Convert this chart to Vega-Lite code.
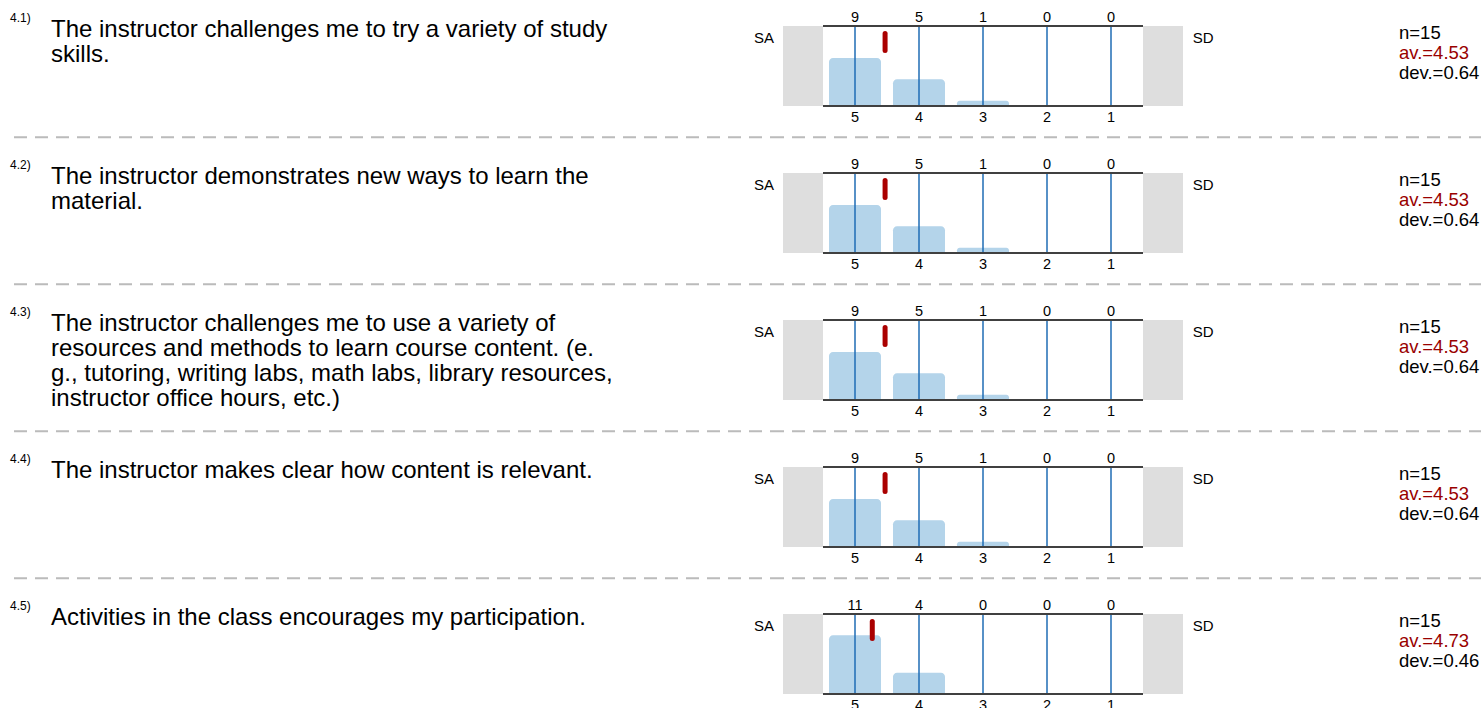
{
  "$schema": "https://vega.github.io/schema/vega-lite/v6.json",
  "padding": {"left": 9, "top": 0, "right": 0, "bottom": 0},
  "bounds": "flush",
  "spacing": 0,
  "columns": 3,
  "align": "each",
  "config": {"view": {"stroke": null}, "font": "Liberation Sans", "text": {"font": "Liberation Sans", "color": "#000000"}},
  "datasets": {
    "questions": [
      {"q": "4.1", "num": "4.1)", "lines": ["The instructor challenges me to try a variety of study", "skills."], "n": 15, "av": 4.53, "dev": 0.64, "nLabel": "n=15", "avLabel": "av.=4.53", "devLabel": "dev.=0.64"},
      {"q": "4.2", "num": "4.2)", "lines": ["The instructor demonstrates new ways to learn the", "material."], "n": 15, "av": 4.53, "dev": 0.64, "nLabel": "n=15", "avLabel": "av.=4.53", "devLabel": "dev.=0.64"},
      {"q": "4.3", "num": "4.3)", "lines": ["The instructor challenges me to use a variety of", "resources and methods to learn course content. (e.", "g., tutoring, writing labs, math labs, library resources,", "instructor office hours, etc.)"], "n": 15, "av": 4.53, "dev": 0.64, "nLabel": "n=15", "avLabel": "av.=4.53", "devLabel": "dev.=0.64"},
      {"q": "4.4", "num": "4.4)", "lines": ["The instructor makes clear how content is relevant."], "n": 15, "av": 4.53, "dev": 0.64, "nLabel": "n=15", "avLabel": "av.=4.53", "devLabel": "dev.=0.64"},
      {"q": "4.5", "num": "4.5)", "lines": ["Activities in the class encourages my participation."], "n": 15, "av": 4.73, "dev": 0.46, "nLabel": "n=15", "avLabel": "av.=4.73", "devLabel": "dev.=0.46"}
    ],
    "counts": [
      {"q": "4.1", "rating": 5, "count": 9}, {"q": "4.1", "rating": 4, "count": 5}, {"q": "4.1", "rating": 3, "count": 1}, {"q": "4.1", "rating": 2, "count": 0}, {"q": "4.1", "rating": 1, "count": 0},
      {"q": "4.2", "rating": 5, "count": 9}, {"q": "4.2", "rating": 4, "count": 5}, {"q": "4.2", "rating": 3, "count": 1}, {"q": "4.2", "rating": 2, "count": 0}, {"q": "4.2", "rating": 1, "count": 0},
      {"q": "4.3", "rating": 5, "count": 9}, {"q": "4.3", "rating": 4, "count": 5}, {"q": "4.3", "rating": 3, "count": 1}, {"q": "4.3", "rating": 2, "count": 0}, {"q": "4.3", "rating": 1, "count": 0},
      {"q": "4.4", "rating": 5, "count": 9}, {"q": "4.4", "rating": 4, "count": 5}, {"q": "4.4", "rating": 3, "count": 1}, {"q": "4.4", "rating": 2, "count": 0}, {"q": "4.4", "rating": 1, "count": 0},
      {"q": "4.5", "rating": 5, "count": 11}, {"q": "4.5", "rating": 4, "count": 4}, {"q": "4.5", "rating": 3, "count": 0}, {"q": "4.5", "rating": 2, "count": 0}, {"q": "4.5", "rating": 1, "count": 0}
    ]
  },
  "concat": [
    {"width": 773, "height": 146.67, "data": {"name": "questions"}, "transform": [{"filter": "datum.q == '4.1'"}],
     "layer": [
      {"mark": {"type": "text", "align": "left", "baseline": "alphabetic", "fontSize": 12, "dy": 21.7}, "encoding": {"x": {"datum": 0, "scale": {"domain": [0, 1]}, "axis": null}, "y": {"datum": 1, "scale": {"domain": [0, 1]}, "axis": null}, "text": {"field": "num"}}},
      {"mark": {"type": "text", "align": "left", "baseline": "alphabetic", "fontSize": 24, "dx": 41, "dy": 36.7, "lineHeight": 25}, "encoding": {"x": {"datum": 0, "scale": {"domain": [0, 1]}, "axis": null}, "y": {"datum": 1, "scale": {"domain": [0, 1]}, "axis": null}, "text": {"field": "lines"}}},
      {"mark": {"type": "rule", "color": "#bbbbbb", "strokeWidth": 2, "strokeDash": [13, 8]}, "encoding": {"y": {"datum": 0.0639, "scale": {"domain": [0, 1]}, "axis": null}}}
     ]},
    {"width": 400, "height": 146.67, "data": {"name": "questions"}, "transform": [{"filter": "datum.q == '4.1'"}],
     "layer": [
      {"mark": {"type": "rect", "color": "#dedede"}, "encoding": {"x": {"datum": 6.125, "scale": {"domain": [6.125, -0.125], "nice": false, "zero": false, "padding": 0}, "axis": null}, "x2": {"datum": 5.5}, "y": {"datum": 0, "scale": {"domain": [-7.625, 19.875], "nice": false, "zero": false}, "axis": null}, "y2": {"datum": 15}}},
      {"mark": {"type": "rect", "color": "#dedede"}, "encoding": {"x": {"datum": 0.5, "scale": {"domain": [6.125, -0.125], "nice": false, "zero": false, "padding": 0}, "axis": null}, "x2": {"datum": -0.125}, "y": {"datum": 0, "scale": {"domain": [-7.625, 19.875], "nice": false, "zero": false}, "axis": null}, "y2": {"datum": 15}}},
      {"data": {"name": "counts"}, "transform": [{"filter": "datum.q == '4.1'"}], "mark": {"type": "bar", "width": 52, "color": "#b4d4ea", "cornerRadiusTopLeft": 4, "cornerRadiusTopRight": 4}, "encoding": {"x": {"field": "rating", "type": "quantitative", "scale": {"domain": [6.125, -0.125], "nice": false, "zero": false, "padding": 0}, "axis": null}, "y": {"field": "count", "type": "quantitative", "scale": {"domain": [-7.625, 19.875], "nice": false, "zero": false}, "axis": null}, "y2": {"datum": 0}}},
      {"data": {"name": "counts"}, "transform": [{"filter": "datum.q == '4.1'"}], "mark": {"type": "rule", "color": "#1f6db4", "strokeWidth": 1.5}, "encoding": {"x": {"field": "rating", "type": "quantitative", "scale": {"domain": [6.125, -0.125], "nice": false, "zero": false, "padding": 0}, "axis": null}, "y": {"datum": 0, "scale": {"domain": [-7.625, 19.875], "nice": false, "zero": false}, "axis": null}, "y2": {"datum": 15}}},
      {"mark": {"type": "rule", "color": "#404040", "strokeWidth": 2}, "encoding": {"x": {"datum": 5.5, "scale": {"domain": [6.125, -0.125], "nice": false, "zero": false, "padding": 0}, "axis": null}, "x2": {"datum": 0.5}, "y": {"datum": 15, "scale": {"domain": [-7.625, 19.875], "nice": false, "zero": false}, "axis": null}}},
      {"mark": {"type": "rule", "color": "#404040", "strokeWidth": 2}, "encoding": {"x": {"datum": 5.5, "scale": {"domain": [6.125, -0.125], "nice": false, "zero": false, "padding": 0}, "axis": null}, "x2": {"datum": 0.5}, "y": {"datum": 0, "scale": {"domain": [-7.625, 19.875], "nice": false, "zero": false}, "axis": null}}},
      {"mark": {"type": "rule", "color": "#aa0000", "strokeWidth": 5, "strokeCap": "round"}, "encoding": {"x": {"field": "av", "type": "quantitative", "scale": {"domain": [6.125, -0.125], "nice": false, "zero": false, "padding": 0}, "axis": null}, "y": {"datum": 13.59, "scale": {"domain": [-7.625, 19.875], "nice": false, "zero": false}, "axis": null}, "y2": {"datum": 10.41}}},
      {"data": {"name": "counts"}, "transform": [{"filter": "datum.q == '4.1'"}], "mark": {"type": "text", "fontSize": 14.5, "baseline": "alphabetic", "dy": -4.3}, "encoding": {"x": {"field": "rating", "type": "quantitative", "scale": {"domain": [6.125, -0.125], "nice": false, "zero": false, "padding": 0}, "axis": null}, "y": {"datum": 15, "scale": {"domain": [-7.625, 19.875], "nice": false, "zero": false}, "axis": null}, "text": {"field": "count"}}},
      {"data": {"name": "counts"}, "transform": [{"filter": "datum.q == '4.1'"}], "mark": {"type": "text", "fontSize": 14.5, "baseline": "alphabetic", "dy": 15.7}, "encoding": {"x": {"field": "rating", "type": "quantitative", "scale": {"domain": [6.125, -0.125], "nice": false, "zero": false, "padding": 0}, "axis": null}, "y": {"datum": 0, "scale": {"domain": [-7.625, 19.875], "nice": false, "zero": false}, "axis": null}, "text": {"field": "rating"}}},
      {"mark": {"type": "text", "text": "SA", "fontSize": 15, "align": "right", "baseline": "alphabetic", "dx": -9, "dy": 16.7}, "encoding": {"x": {"datum": 6.125, "scale": {"domain": [6.125, -0.125], "nice": false, "zero": false, "padding": 0}, "axis": null}, "y": {"datum": 15, "scale": {"domain": [-7.625, 19.875], "nice": false, "zero": false}, "axis": null}}},
      {"mark": {"type": "text", "text": "SD", "fontSize": 15, "align": "left", "baseline": "alphabetic", "dx": 9.7, "dy": 16.7}, "encoding": {"x": {"datum": -0.125, "scale": {"domain": [6.125, -0.125], "nice": false, "zero": false, "padding": 0}, "axis": null}, "y": {"datum": 15, "scale": {"domain": [-7.625, 19.875], "nice": false, "zero": false}, "axis": null}}},
      {"mark": {"type": "rule", "color": "#bbbbbb", "strokeWidth": 2, "strokeDash": [13, 8]}, "encoding": {"y": {"datum": -5.869, "scale": {"domain": [-7.625, 19.875], "nice": false, "zero": false}, "axis": null}}}
     ]},
    {"width": 299, "height": 146.67, "data": {"name": "questions"}, "transform": [{"filter": "datum.q == '4.1'"}],
     "layer": [
      {"mark": {"type": "text", "align": "left", "baseline": "alphabetic", "fontSize": 18.5, "dx": 216, "dy": 38.5}, "encoding": {"x": {"datum": 0, "scale": {"domain": [0, 1]}, "axis": null}, "y": {"datum": 1, "scale": {"domain": [0, 1]}, "axis": null}, "text": {"field": "nLabel"}}},
      {"mark": {"type": "text", "align": "left", "baseline": "alphabetic", "fontSize": 18.5, "dx": 216, "dy": 59, "color": "#990000"}, "encoding": {"x": {"datum": 0, "scale": {"domain": [0, 1]}, "axis": null}, "y": {"datum": 1, "scale": {"domain": [0, 1]}, "axis": null}, "text": {"field": "avLabel"}}},
      {"mark": {"type": "text", "align": "left", "baseline": "alphabetic", "fontSize": 18.5, "dx": 216, "dy": 79, "limit": 0}, "encoding": {"x": {"datum": 0, "scale": {"domain": [0, 1]}, "axis": null}, "y": {"datum": 1, "scale": {"domain": [0, 1]}, "axis": null}, "text": {"field": "devLabel"}}},
      {"mark": {"type": "rule", "color": "#bbbbbb", "strokeWidth": 2, "strokeDash": [13, 8]}, "encoding": {"y": {"datum": 0.0639, "scale": {"domain": [0, 1]}, "axis": null}}}
     ]},

    {"width": 773, "height": 146.67, "data": {"name": "questions"}, "transform": [{"filter": "datum.q == '4.2'"}],
     "layer": [
      {"mark": {"type": "text", "align": "left", "baseline": "alphabetic", "fontSize": 12, "dy": 21.7}, "encoding": {"x": {"datum": 0, "scale": {"domain": [0, 1]}, "axis": null}, "y": {"datum": 1, "scale": {"domain": [0, 1]}, "axis": null}, "text": {"field": "num"}}},
      {"mark": {"type": "text", "align": "left", "baseline": "alphabetic", "fontSize": 24, "dx": 41, "dy": 36.7, "lineHeight": 25}, "encoding": {"x": {"datum": 0, "scale": {"domain": [0, 1]}, "axis": null}, "y": {"datum": 1, "scale": {"domain": [0, 1]}, "axis": null}, "text": {"field": "lines"}}},
      {"mark": {"type": "rule", "color": "#bbbbbb", "strokeWidth": 2, "strokeDash": [13, 8]}, "encoding": {"y": {"datum": 0.0639, "scale": {"domain": [0, 1]}, "axis": null}}}
     ]},
    {"width": 400, "height": 146.67, "data": {"name": "questions"}, "transform": [{"filter": "datum.q == '4.2'"}],
     "layer": [
      {"mark": {"type": "rect", "color": "#dedede"}, "encoding": {"x": {"datum": 6.125, "scale": {"domain": [6.125, -0.125], "nice": false, "zero": false, "padding": 0}, "axis": null}, "x2": {"datum": 5.5}, "y": {"datum": 0, "scale": {"domain": [-7.625, 19.875], "nice": false, "zero": false}, "axis": null}, "y2": {"datum": 15}}},
      {"mark": {"type": "rect", "color": "#dedede"}, "encoding": {"x": {"datum": 0.5, "scale": {"domain": [6.125, -0.125], "nice": false, "zero": false, "padding": 0}, "axis": null}, "x2": {"datum": -0.125}, "y": {"datum": 0, "scale": {"domain": [-7.625, 19.875], "nice": false, "zero": false}, "axis": null}, "y2": {"datum": 15}}},
      {"data": {"name": "counts"}, "transform": [{"filter": "datum.q == '4.2'"}], "mark": {"type": "bar", "width": 52, "color": "#b4d4ea", "cornerRadiusTopLeft": 4, "cornerRadiusTopRight": 4}, "encoding": {"x": {"field": "rating", "type": "quantitative", "scale": {"domain": [6.125, -0.125], "nice": false, "zero": false, "padding": 0}, "axis": null}, "y": {"field": "count", "type": "quantitative", "scale": {"domain": [-7.625, 19.875], "nice": false, "zero": false}, "axis": null}, "y2": {"datum": 0}}},
      {"data": {"name": "counts"}, "transform": [{"filter": "datum.q == '4.2'"}], "mark": {"type": "rule", "color": "#1f6db4", "strokeWidth": 1.5}, "encoding": {"x": {"field": "rating", "type": "quantitative", "scale": {"domain": [6.125, -0.125], "nice": false, "zero": false, "padding": 0}, "axis": null}, "y": {"datum": 0, "scale": {"domain": [-7.625, 19.875], "nice": false, "zero": false}, "axis": null}, "y2": {"datum": 15}}},
      {"mark": {"type": "rule", "color": "#404040", "strokeWidth": 2}, "encoding": {"x": {"datum": 5.5, "scale": {"domain": [6.125, -0.125], "nice": false, "zero": false, "padding": 0}, "axis": null}, "x2": {"datum": 0.5}, "y": {"datum": 15, "scale": {"domain": [-7.625, 19.875], "nice": false, "zero": false}, "axis": null}}},
      {"mark": {"type": "rule", "color": "#404040", "strokeWidth": 2}, "encoding": {"x": {"datum": 5.5, "scale": {"domain": [6.125, -0.125], "nice": false, "zero": false, "padding": 0}, "axis": null}, "x2": {"datum": 0.5}, "y": {"datum": 0, "scale": {"domain": [-7.625, 19.875], "nice": false, "zero": false}, "axis": null}}},
      {"mark": {"type": "rule", "color": "#aa0000", "strokeWidth": 5, "strokeCap": "round"}, "encoding": {"x": {"field": "av", "type": "quantitative", "scale": {"domain": [6.125, -0.125], "nice": false, "zero": false, "padding": 0}, "axis": null}, "y": {"datum": 13.59, "scale": {"domain": [-7.625, 19.875], "nice": false, "zero": false}, "axis": null}, "y2": {"datum": 10.41}}},
      {"data": {"name": "counts"}, "transform": [{"filter": "datum.q == '4.2'"}], "mark": {"type": "text", "fontSize": 14.5, "baseline": "alphabetic", "dy": -4.3}, "encoding": {"x": {"field": "rating", "type": "quantitative", "scale": {"domain": [6.125, -0.125], "nice": false, "zero": false, "padding": 0}, "axis": null}, "y": {"datum": 15, "scale": {"domain": [-7.625, 19.875], "nice": false, "zero": false}, "axis": null}, "text": {"field": "count"}}},
      {"data": {"name": "counts"}, "transform": [{"filter": "datum.q == '4.2'"}], "mark": {"type": "text", "fontSize": 14.5, "baseline": "alphabetic", "dy": 15.7}, "encoding": {"x": {"field": "rating", "type": "quantitative", "scale": {"domain": [6.125, -0.125], "nice": false, "zero": false, "padding": 0}, "axis": null}, "y": {"datum": 0, "scale": {"domain": [-7.625, 19.875], "nice": false, "zero": false}, "axis": null}, "text": {"field": "rating"}}},
      {"mark": {"type": "text", "text": "SA", "fontSize": 15, "align": "right", "baseline": "alphabetic", "dx": -9, "dy": 16.7}, "encoding": {"x": {"datum": 6.125, "scale": {"domain": [6.125, -0.125], "nice": false, "zero": false, "padding": 0}, "axis": null}, "y": {"datum": 15, "scale": {"domain": [-7.625, 19.875], "nice": false, "zero": false}, "axis": null}}},
      {"mark": {"type": "text", "text": "SD", "fontSize": 15, "align": "left", "baseline": "alphabetic", "dx": 9.7, "dy": 16.7}, "encoding": {"x": {"datum": -0.125, "scale": {"domain": [6.125, -0.125], "nice": false, "zero": false, "padding": 0}, "axis": null}, "y": {"datum": 15, "scale": {"domain": [-7.625, 19.875], "nice": false, "zero": false}, "axis": null}}},
      {"mark": {"type": "rule", "color": "#bbbbbb", "strokeWidth": 2, "strokeDash": [13, 8]}, "encoding": {"y": {"datum": -5.869, "scale": {"domain": [-7.625, 19.875], "nice": false, "zero": false}, "axis": null}}}
     ]},
    {"width": 299, "height": 146.67, "data": {"name": "questions"}, "transform": [{"filter": "datum.q == '4.2'"}],
     "layer": [
      {"mark": {"type": "text", "align": "left", "baseline": "alphabetic", "fontSize": 18.5, "dx": 216, "dy": 38.5}, "encoding": {"x": {"datum": 0, "scale": {"domain": [0, 1]}, "axis": null}, "y": {"datum": 1, "scale": {"domain": [0, 1]}, "axis": null}, "text": {"field": "nLabel"}}},
      {"mark": {"type": "text", "align": "left", "baseline": "alphabetic", "fontSize": 18.5, "dx": 216, "dy": 59, "color": "#990000"}, "encoding": {"x": {"datum": 0, "scale": {"domain": [0, 1]}, "axis": null}, "y": {"datum": 1, "scale": {"domain": [0, 1]}, "axis": null}, "text": {"field": "avLabel"}}},
      {"mark": {"type": "text", "align": "left", "baseline": "alphabetic", "fontSize": 18.5, "dx": 216, "dy": 79, "limit": 0}, "encoding": {"x": {"datum": 0, "scale": {"domain": [0, 1]}, "axis": null}, "y": {"datum": 1, "scale": {"domain": [0, 1]}, "axis": null}, "text": {"field": "devLabel"}}},
      {"mark": {"type": "rule", "color": "#bbbbbb", "strokeWidth": 2, "strokeDash": [13, 8]}, "encoding": {"y": {"datum": 0.0639, "scale": {"domain": [0, 1]}, "axis": null}}}
     ]},

    {"width": 773, "height": 146.67, "data": {"name": "questions"}, "transform": [{"filter": "datum.q == '4.3'"}],
     "layer": [
      {"mark": {"type": "text", "align": "left", "baseline": "alphabetic", "fontSize": 12, "dy": 21.7}, "encoding": {"x": {"datum": 0, "scale": {"domain": [0, 1]}, "axis": null}, "y": {"datum": 1, "scale": {"domain": [0, 1]}, "axis": null}, "text": {"field": "num"}}},
      {"mark": {"type": "text", "align": "left", "baseline": "alphabetic", "fontSize": 24, "dx": 41, "dy": 36.7, "lineHeight": 25}, "encoding": {"x": {"datum": 0, "scale": {"domain": [0, 1]}, "axis": null}, "y": {"datum": 1, "scale": {"domain": [0, 1]}, "axis": null}, "text": {"field": "lines"}}},
      {"mark": {"type": "rule", "color": "#bbbbbb", "strokeWidth": 2, "strokeDash": [13, 8]}, "encoding": {"y": {"datum": 0.0639, "scale": {"domain": [0, 1]}, "axis": null}}}
     ]},
    {"width": 400, "height": 146.67, "data": {"name": "questions"}, "transform": [{"filter": "datum.q == '4.3'"}],
     "layer": [
      {"mark": {"type": "rect", "color": "#dedede"}, "encoding": {"x": {"datum": 6.125, "scale": {"domain": [6.125, -0.125], "nice": false, "zero": false, "padding": 0}, "axis": null}, "x2": {"datum": 5.5}, "y": {"datum": 0, "scale": {"domain": [-7.625, 19.875], "nice": false, "zero": false}, "axis": null}, "y2": {"datum": 15}}},
      {"mark": {"type": "rect", "color": "#dedede"}, "encoding": {"x": {"datum": 0.5, "scale": {"domain": [6.125, -0.125], "nice": false, "zero": false, "padding": 0}, "axis": null}, "x2": {"datum": -0.125}, "y": {"datum": 0, "scale": {"domain": [-7.625, 19.875], "nice": false, "zero": false}, "axis": null}, "y2": {"datum": 15}}},
      {"data": {"name": "counts"}, "transform": [{"filter": "datum.q == '4.3'"}], "mark": {"type": "bar", "width": 52, "color": "#b4d4ea", "cornerRadiusTopLeft": 4, "cornerRadiusTopRight": 4}, "encoding": {"x": {"field": "rating", "type": "quantitative", "scale": {"domain": [6.125, -0.125], "nice": false, "zero": false, "padding": 0}, "axis": null}, "y": {"field": "count", "type": "quantitative", "scale": {"domain": [-7.625, 19.875], "nice": false, "zero": false}, "axis": null}, "y2": {"datum": 0}}},
      {"data": {"name": "counts"}, "transform": [{"filter": "datum.q == '4.3'"}], "mark": {"type": "rule", "color": "#1f6db4", "strokeWidth": 1.5}, "encoding": {"x": {"field": "rating", "type": "quantitative", "scale": {"domain": [6.125, -0.125], "nice": false, "zero": false, "padding": 0}, "axis": null}, "y": {"datum": 0, "scale": {"domain": [-7.625, 19.875], "nice": false, "zero": false}, "axis": null}, "y2": {"datum": 15}}},
      {"mark": {"type": "rule", "color": "#404040", "strokeWidth": 2}, "encoding": {"x": {"datum": 5.5, "scale": {"domain": [6.125, -0.125], "nice": false, "zero": false, "padding": 0}, "axis": null}, "x2": {"datum": 0.5}, "y": {"datum": 15, "scale": {"domain": [-7.625, 19.875], "nice": false, "zero": false}, "axis": null}}},
      {"mark": {"type": "rule", "color": "#404040", "strokeWidth": 2}, "encoding": {"x": {"datum": 5.5, "scale": {"domain": [6.125, -0.125], "nice": false, "zero": false, "padding": 0}, "axis": null}, "x2": {"datum": 0.5}, "y": {"datum": 0, "scale": {"domain": [-7.625, 19.875], "nice": false, "zero": false}, "axis": null}}},
      {"mark": {"type": "rule", "color": "#aa0000", "strokeWidth": 5, "strokeCap": "round"}, "encoding": {"x": {"field": "av", "type": "quantitative", "scale": {"domain": [6.125, -0.125], "nice": false, "zero": false, "padding": 0}, "axis": null}, "y": {"datum": 13.59, "scale": {"domain": [-7.625, 19.875], "nice": false, "zero": false}, "axis": null}, "y2": {"datum": 10.41}}},
      {"data": {"name": "counts"}, "transform": [{"filter": "datum.q == '4.3'"}], "mark": {"type": "text", "fontSize": 14.5, "baseline": "alphabetic", "dy": -4.3}, "encoding": {"x": {"field": "rating", "type": "quantitative", "scale": {"domain": [6.125, -0.125], "nice": false, "zero": false, "padding": 0}, "axis": null}, "y": {"datum": 15, "scale": {"domain": [-7.625, 19.875], "nice": false, "zero": false}, "axis": null}, "text": {"field": "count"}}},
      {"data": {"name": "counts"}, "transform": [{"filter": "datum.q == '4.3'"}], "mark": {"type": "text", "fontSize": 14.5, "baseline": "alphabetic", "dy": 15.7}, "encoding": {"x": {"field": "rating", "type": "quantitative", "scale": {"domain": [6.125, -0.125], "nice": false, "zero": false, "padding": 0}, "axis": null}, "y": {"datum": 0, "scale": {"domain": [-7.625, 19.875], "nice": false, "zero": false}, "axis": null}, "text": {"field": "rating"}}},
      {"mark": {"type": "text", "text": "SA", "fontSize": 15, "align": "right", "baseline": "alphabetic", "dx": -9, "dy": 16.7}, "encoding": {"x": {"datum": 6.125, "scale": {"domain": [6.125, -0.125], "nice": false, "zero": false, "padding": 0}, "axis": null}, "y": {"datum": 15, "scale": {"domain": [-7.625, 19.875], "nice": false, "zero": false}, "axis": null}}},
      {"mark": {"type": "text", "text": "SD", "fontSize": 15, "align": "left", "baseline": "alphabetic", "dx": 9.7, "dy": 16.7}, "encoding": {"x": {"datum": -0.125, "scale": {"domain": [6.125, -0.125], "nice": false, "zero": false, "padding": 0}, "axis": null}, "y": {"datum": 15, "scale": {"domain": [-7.625, 19.875], "nice": false, "zero": false}, "axis": null}}},
      {"mark": {"type": "rule", "color": "#bbbbbb", "strokeWidth": 2, "strokeDash": [13, 8]}, "encoding": {"y": {"datum": -5.869, "scale": {"domain": [-7.625, 19.875], "nice": false, "zero": false}, "axis": null}}}
     ]},
    {"width": 299, "height": 146.67, "data": {"name": "questions"}, "transform": [{"filter": "datum.q == '4.3'"}],
     "layer": [
      {"mark": {"type": "text", "align": "left", "baseline": "alphabetic", "fontSize": 18.5, "dx": 216, "dy": 38.5}, "encoding": {"x": {"datum": 0, "scale": {"domain": [0, 1]}, "axis": null}, "y": {"datum": 1, "scale": {"domain": [0, 1]}, "axis": null}, "text": {"field": "nLabel"}}},
      {"mark": {"type": "text", "align": "left", "baseline": "alphabetic", "fontSize": 18.5, "dx": 216, "dy": 59, "color": "#990000"}, "encoding": {"x": {"datum": 0, "scale": {"domain": [0, 1]}, "axis": null}, "y": {"datum": 1, "scale": {"domain": [0, 1]}, "axis": null}, "text": {"field": "avLabel"}}},
      {"mark": {"type": "text", "align": "left", "baseline": "alphabetic", "fontSize": 18.5, "dx": 216, "dy": 79, "limit": 0}, "encoding": {"x": {"datum": 0, "scale": {"domain": [0, 1]}, "axis": null}, "y": {"datum": 1, "scale": {"domain": [0, 1]}, "axis": null}, "text": {"field": "devLabel"}}},
      {"mark": {"type": "rule", "color": "#bbbbbb", "strokeWidth": 2, "strokeDash": [13, 8]}, "encoding": {"y": {"datum": 0.0639, "scale": {"domain": [0, 1]}, "axis": null}}}
     ]},

    {"width": 773, "height": 146.67, "data": {"name": "questions"}, "transform": [{"filter": "datum.q == '4.4'"}],
     "layer": [
      {"mark": {"type": "text", "align": "left", "baseline": "alphabetic", "fontSize": 12, "dy": 21.7}, "encoding": {"x": {"datum": 0, "scale": {"domain": [0, 1]}, "axis": null}, "y": {"datum": 1, "scale": {"domain": [0, 1]}, "axis": null}, "text": {"field": "num"}}},
      {"mark": {"type": "text", "align": "left", "baseline": "alphabetic", "fontSize": 24, "dx": 41, "dy": 36.7, "lineHeight": 25}, "encoding": {"x": {"datum": 0, "scale": {"domain": [0, 1]}, "axis": null}, "y": {"datum": 1, "scale": {"domain": [0, 1]}, "axis": null}, "text": {"field": "lines"}}},
      {"mark": {"type": "rule", "color": "#bbbbbb", "strokeWidth": 2, "strokeDash": [13, 8]}, "encoding": {"y": {"datum": 0.0639, "scale": {"domain": [0, 1]}, "axis": null}}}
     ]},
    {"width": 400, "height": 146.67, "data": {"name": "questions"}, "transform": [{"filter": "datum.q == '4.4'"}],
     "layer": [
      {"mark": {"type": "rect", "color": "#dedede"}, "encoding": {"x": {"datum": 6.125, "scale": {"domain": [6.125, -0.125], "nice": false, "zero": false, "padding": 0}, "axis": null}, "x2": {"datum": 5.5}, "y": {"datum": 0, "scale": {"domain": [-7.625, 19.875], "nice": false, "zero": false}, "axis": null}, "y2": {"datum": 15}}},
      {"mark": {"type": "rect", "color": "#dedede"}, "encoding": {"x": {"datum": 0.5, "scale": {"domain": [6.125, -0.125], "nice": false, "zero": false, "padding": 0}, "axis": null}, "x2": {"datum": -0.125}, "y": {"datum": 0, "scale": {"domain": [-7.625, 19.875], "nice": false, "zero": false}, "axis": null}, "y2": {"datum": 15}}},
      {"data": {"name": "counts"}, "transform": [{"filter": "datum.q == '4.4'"}], "mark": {"type": "bar", "width": 52, "color": "#b4d4ea", "cornerRadiusTopLeft": 4, "cornerRadiusTopRight": 4}, "encoding": {"x": {"field": "rating", "type": "quantitative", "scale": {"domain": [6.125, -0.125], "nice": false, "zero": false, "padding": 0}, "axis": null}, "y": {"field": "count", "type": "quantitative", "scale": {"domain": [-7.625, 19.875], "nice": false, "zero": false}, "axis": null}, "y2": {"datum": 0}}},
      {"data": {"name": "counts"}, "transform": [{"filter": "datum.q == '4.4'"}], "mark": {"type": "rule", "color": "#1f6db4", "strokeWidth": 1.5}, "encoding": {"x": {"field": "rating", "type": "quantitative", "scale": {"domain": [6.125, -0.125], "nice": false, "zero": false, "padding": 0}, "axis": null}, "y": {"datum": 0, "scale": {"domain": [-7.625, 19.875], "nice": false, "zero": false}, "axis": null}, "y2": {"datum": 15}}},
      {"mark": {"type": "rule", "color": "#404040", "strokeWidth": 2}, "encoding": {"x": {"datum": 5.5, "scale": {"domain": [6.125, -0.125], "nice": false, "zero": false, "padding": 0}, "axis": null}, "x2": {"datum": 0.5}, "y": {"datum": 15, "scale": {"domain": [-7.625, 19.875], "nice": false, "zero": false}, "axis": null}}},
      {"mark": {"type": "rule", "color": "#404040", "strokeWidth": 2}, "encoding": {"x": {"datum": 5.5, "scale": {"domain": [6.125, -0.125], "nice": false, "zero": false, "padding": 0}, "axis": null}, "x2": {"datum": 0.5}, "y": {"datum": 0, "scale": {"domain": [-7.625, 19.875], "nice": false, "zero": false}, "axis": null}}},
      {"mark": {"type": "rule", "color": "#aa0000", "strokeWidth": 5, "strokeCap": "round"}, "encoding": {"x": {"field": "av", "type": "quantitative", "scale": {"domain": [6.125, -0.125], "nice": false, "zero": false, "padding": 0}, "axis": null}, "y": {"datum": 13.59, "scale": {"domain": [-7.625, 19.875], "nice": false, "zero": false}, "axis": null}, "y2": {"datum": 10.41}}},
      {"data": {"name": "counts"}, "transform": [{"filter": "datum.q == '4.4'"}], "mark": {"type": "text", "fontSize": 14.5, "baseline": "alphabetic", "dy": -4.3}, "encoding": {"x": {"field": "rating", "type": "quantitative", "scale": {"domain": [6.125, -0.125], "nice": false, "zero": false, "padding": 0}, "axis": null}, "y": {"datum": 15, "scale": {"domain": [-7.625, 19.875], "nice": false, "zero": false}, "axis": null}, "text": {"field": "count"}}},
      {"data": {"name": "counts"}, "transform": [{"filter": "datum.q == '4.4'"}], "mark": {"type": "text", "fontSize": 14.5, "baseline": "alphabetic", "dy": 15.7}, "encoding": {"x": {"field": "rating", "type": "quantitative", "scale": {"domain": [6.125, -0.125], "nice": false, "zero": false, "padding": 0}, "axis": null}, "y": {"datum": 0, "scale": {"domain": [-7.625, 19.875], "nice": false, "zero": false}, "axis": null}, "text": {"field": "rating"}}},
      {"mark": {"type": "text", "text": "SA", "fontSize": 15, "align": "right", "baseline": "alphabetic", "dx": -9, "dy": 16.7}, "encoding": {"x": {"datum": 6.125, "scale": {"domain": [6.125, -0.125], "nice": false, "zero": false, "padding": 0}, "axis": null}, "y": {"datum": 15, "scale": {"domain": [-7.625, 19.875], "nice": false, "zero": false}, "axis": null}}},
      {"mark": {"type": "text", "text": "SD", "fontSize": 15, "align": "left", "baseline": "alphabetic", "dx": 9.7, "dy": 16.7}, "encoding": {"x": {"datum": -0.125, "scale": {"domain": [6.125, -0.125], "nice": false, "zero": false, "padding": 0}, "axis": null}, "y": {"datum": 15, "scale": {"domain": [-7.625, 19.875], "nice": false, "zero": false}, "axis": null}}},
      {"mark": {"type": "rule", "color": "#bbbbbb", "strokeWidth": 2, "strokeDash": [13, 8]}, "encoding": {"y": {"datum": -5.869, "scale": {"domain": [-7.625, 19.875], "nice": false, "zero": false}, "axis": null}}}
     ]},
    {"width": 299, "height": 146.67, "data": {"name": "questions"}, "transform": [{"filter": "datum.q == '4.4'"}],
     "layer": [
      {"mark": {"type": "text", "align": "left", "baseline": "alphabetic", "fontSize": 18.5, "dx": 216, "dy": 38.5}, "encoding": {"x": {"datum": 0, "scale": {"domain": [0, 1]}, "axis": null}, "y": {"datum": 1, "scale": {"domain": [0, 1]}, "axis": null}, "text": {"field": "nLabel"}}},
      {"mark": {"type": "text", "align": "left", "baseline": "alphabetic", "fontSize": 18.5, "dx": 216, "dy": 59, "color": "#990000"}, "encoding": {"x": {"datum": 0, "scale": {"domain": [0, 1]}, "axis": null}, "y": {"datum": 1, "scale": {"domain": [0, 1]}, "axis": null}, "text": {"field": "avLabel"}}},
      {"mark": {"type": "text", "align": "left", "baseline": "alphabetic", "fontSize": 18.5, "dx": 216, "dy": 79, "limit": 0}, "encoding": {"x": {"datum": 0, "scale": {"domain": [0, 1]}, "axis": null}, "y": {"datum": 1, "scale": {"domain": [0, 1]}, "axis": null}, "text": {"field": "devLabel"}}},
      {"mark": {"type": "rule", "color": "#bbbbbb", "strokeWidth": 2, "strokeDash": [13, 8]}, "encoding": {"y": {"datum": 0.0639, "scale": {"domain": [0, 1]}, "axis": null}}}
     ]},

    {"width": 773, "height": 121.33, "data": {"name": "questions"}, "transform": [{"filter": "datum.q == '4.5'"}],
     "layer": [
      {"mark": {"type": "text", "align": "left", "baseline": "alphabetic", "fontSize": 12, "dy": 21.7}, "encoding": {"x": {"datum": 0, "scale": {"domain": [0, 1]}, "axis": null}, "y": {"datum": 1, "scale": {"domain": [0, 1]}, "axis": null}, "text": {"field": "num"}}},
      {"mark": {"type": "text", "align": "left", "baseline": "alphabetic", "fontSize": 24, "dx": 41, "dy": 36.7, "lineHeight": 25}, "encoding": {"x": {"datum": 0, "scale": {"domain": [0, 1]}, "axis": null}, "y": {"datum": 1, "scale": {"domain": [0, 1]}, "axis": null}, "text": {"field": "lines"}}}
     ]},
    {"width": 400, "height": 121.33, "data": {"name": "questions"}, "transform": [{"filter": "datum.q == '4.5'"}],
     "layer": [
      {"mark": {"type": "rect", "color": "#dedede"}, "encoding": {"x": {"datum": 6.125, "scale": {"domain": [6.125, -0.125], "nice": false, "zero": false, "padding": 0}, "axis": null}, "x2": {"datum": 5.5}, "y": {"datum": 0, "scale": {"domain": [-2.875, 19.875], "nice": false, "zero": false}, "axis": null}, "y2": {"datum": 15}}},
      {"mark": {"type": "rect", "color": "#dedede"}, "encoding": {"x": {"datum": 0.5, "scale": {"domain": [6.125, -0.125], "nice": false, "zero": false, "padding": 0}, "axis": null}, "x2": {"datum": -0.125}, "y": {"datum": 0, "scale": {"domain": [-2.875, 19.875], "nice": false, "zero": false}, "axis": null}, "y2": {"datum": 15}}},
      {"data": {"name": "counts"}, "transform": [{"filter": "datum.q == '4.5'"}], "mark": {"type": "bar", "width": 52, "color": "#b4d4ea", "cornerRadiusTopLeft": 4, "cornerRadiusTopRight": 4}, "encoding": {"x": {"field": "rating", "type": "quantitative", "scale": {"domain": [6.125, -0.125], "nice": false, "zero": false, "padding": 0}, "axis": null}, "y": {"field": "count", "type": "quantitative", "scale": {"domain": [-2.875, 19.875], "nice": false, "zero": false}, "axis": null}, "y2": {"datum": 0}}},
      {"data": {"name": "counts"}, "transform": [{"filter": "datum.q == '4.5'"}], "mark": {"type": "rule", "color": "#1f6db4", "strokeWidth": 1.5}, "encoding": {"x": {"field": "rating", "type": "quantitative", "scale": {"domain": [6.125, -0.125], "nice": false, "zero": false, "padding": 0}, "axis": null}, "y": {"datum": 0, "scale": {"domain": [-2.875, 19.875], "nice": false, "zero": false}, "axis": null}, "y2": {"datum": 15}}},
      {"mark": {"type": "rule", "color": "#404040", "strokeWidth": 2}, "encoding": {"x": {"datum": 5.5, "scale": {"domain": [6.125, -0.125], "nice": false, "zero": false, "padding": 0}, "axis": null}, "x2": {"datum": 0.5}, "y": {"datum": 15, "scale": {"domain": [-2.875, 19.875], "nice": false, "zero": false}, "axis": null}}},
      {"mark": {"type": "rule", "color": "#404040", "strokeWidth": 2}, "encoding": {"x": {"datum": 5.5, "scale": {"domain": [6.125, -0.125], "nice": false, "zero": false, "padding": 0}, "axis": null}, "x2": {"datum": 0.5}, "y": {"datum": 0, "scale": {"domain": [-2.875, 19.875], "nice": false, "zero": false}, "axis": null}}},
      {"mark": {"type": "rule", "color": "#aa0000", "strokeWidth": 5, "strokeCap": "round"}, "encoding": {"x": {"field": "av", "type": "quantitative", "scale": {"domain": [6.125, -0.125], "nice": false, "zero": false, "padding": 0}, "axis": null}, "y": {"datum": 13.59, "scale": {"domain": [-2.875, 19.875], "nice": false, "zero": false}, "axis": null}, "y2": {"datum": 10.41}}},
      {"data": {"name": "counts"}, "transform": [{"filter": "datum.q == '4.5'"}], "mark": {"type": "text", "fontSize": 14.5, "baseline": "alphabetic", "dy": -4.3}, "encoding": {"x": {"field": "rating", "type": "quantitative", "scale": {"domain": [6.125, -0.125], "nice": false, "zero": false, "padding": 0}, "axis": null}, "y": {"datum": 15, "scale": {"domain": [-2.875, 19.875], "nice": false, "zero": false}, "axis": null}, "text": {"field": "count"}}},
      {"data": {"name": "counts"}, "transform": [{"filter": "datum.q == '4.5'"}], "mark": {"type": "text", "fontSize": 14.5, "baseline": "alphabetic", "dy": 15.7}, "encoding": {"x": {"field": "rating", "type": "quantitative", "scale": {"domain": [6.125, -0.125], "nice": false, "zero": false, "padding": 0}, "axis": null}, "y": {"datum": 0, "scale": {"domain": [-2.875, 19.875], "nice": false, "zero": false}, "axis": null}, "text": {"field": "rating"}}},
      {"mark": {"type": "text", "text": "SA", "fontSize": 15, "align": "right", "baseline": "alphabetic", "dx": -9, "dy": 16.7}, "encoding": {"x": {"datum": 6.125, "scale": {"domain": [6.125, -0.125], "nice": false, "zero": false, "padding": 0}, "axis": null}, "y": {"datum": 15, "scale": {"domain": [-2.875, 19.875], "nice": false, "zero": false}, "axis": null}}},
      {"mark": {"type": "text", "text": "SD", "fontSize": 15, "align": "left", "baseline": "alphabetic", "dx": 9.7, "dy": 16.7}, "encoding": {"x": {"datum": -0.125, "scale": {"domain": [6.125, -0.125], "nice": false, "zero": false, "padding": 0}, "axis": null}, "y": {"datum": 15, "scale": {"domain": [-2.875, 19.875], "nice": false, "zero": false}, "axis": null}}}
     ]},
    {"width": 299, "height": 121.33, "data": {"name": "questions"}, "transform": [{"filter": "datum.q == '4.5'"}],
     "layer": [
      {"mark": {"type": "text", "align": "left", "baseline": "alphabetic", "fontSize": 18.5, "dx": 216, "dy": 38.5}, "encoding": {"x": {"datum": 0, "scale": {"domain": [0, 1]}, "axis": null}, "y": {"datum": 1, "scale": {"domain": [0, 1]}, "axis": null}, "text": {"field": "nLabel"}}},
      {"mark": {"type": "text", "align": "left", "baseline": "alphabetic", "fontSize": 18.5, "dx": 216, "dy": 59, "color": "#990000"}, "encoding": {"x": {"datum": 0, "scale": {"domain": [0, 1]}, "axis": null}, "y": {"datum": 1, "scale": {"domain": [0, 1]}, "axis": null}, "text": {"field": "avLabel"}}},
      {"mark": {"type": "text", "align": "left", "baseline": "alphabetic", "fontSize": 18.5, "dx": 216, "dy": 79, "limit": 0}, "encoding": {"x": {"datum": 0, "scale": {"domain": [0, 1]}, "axis": null}, "y": {"datum": 1, "scale": {"domain": [0, 1]}, "axis": null}, "text": {"field": "devLabel"}}}
     ]}
  ]
}
